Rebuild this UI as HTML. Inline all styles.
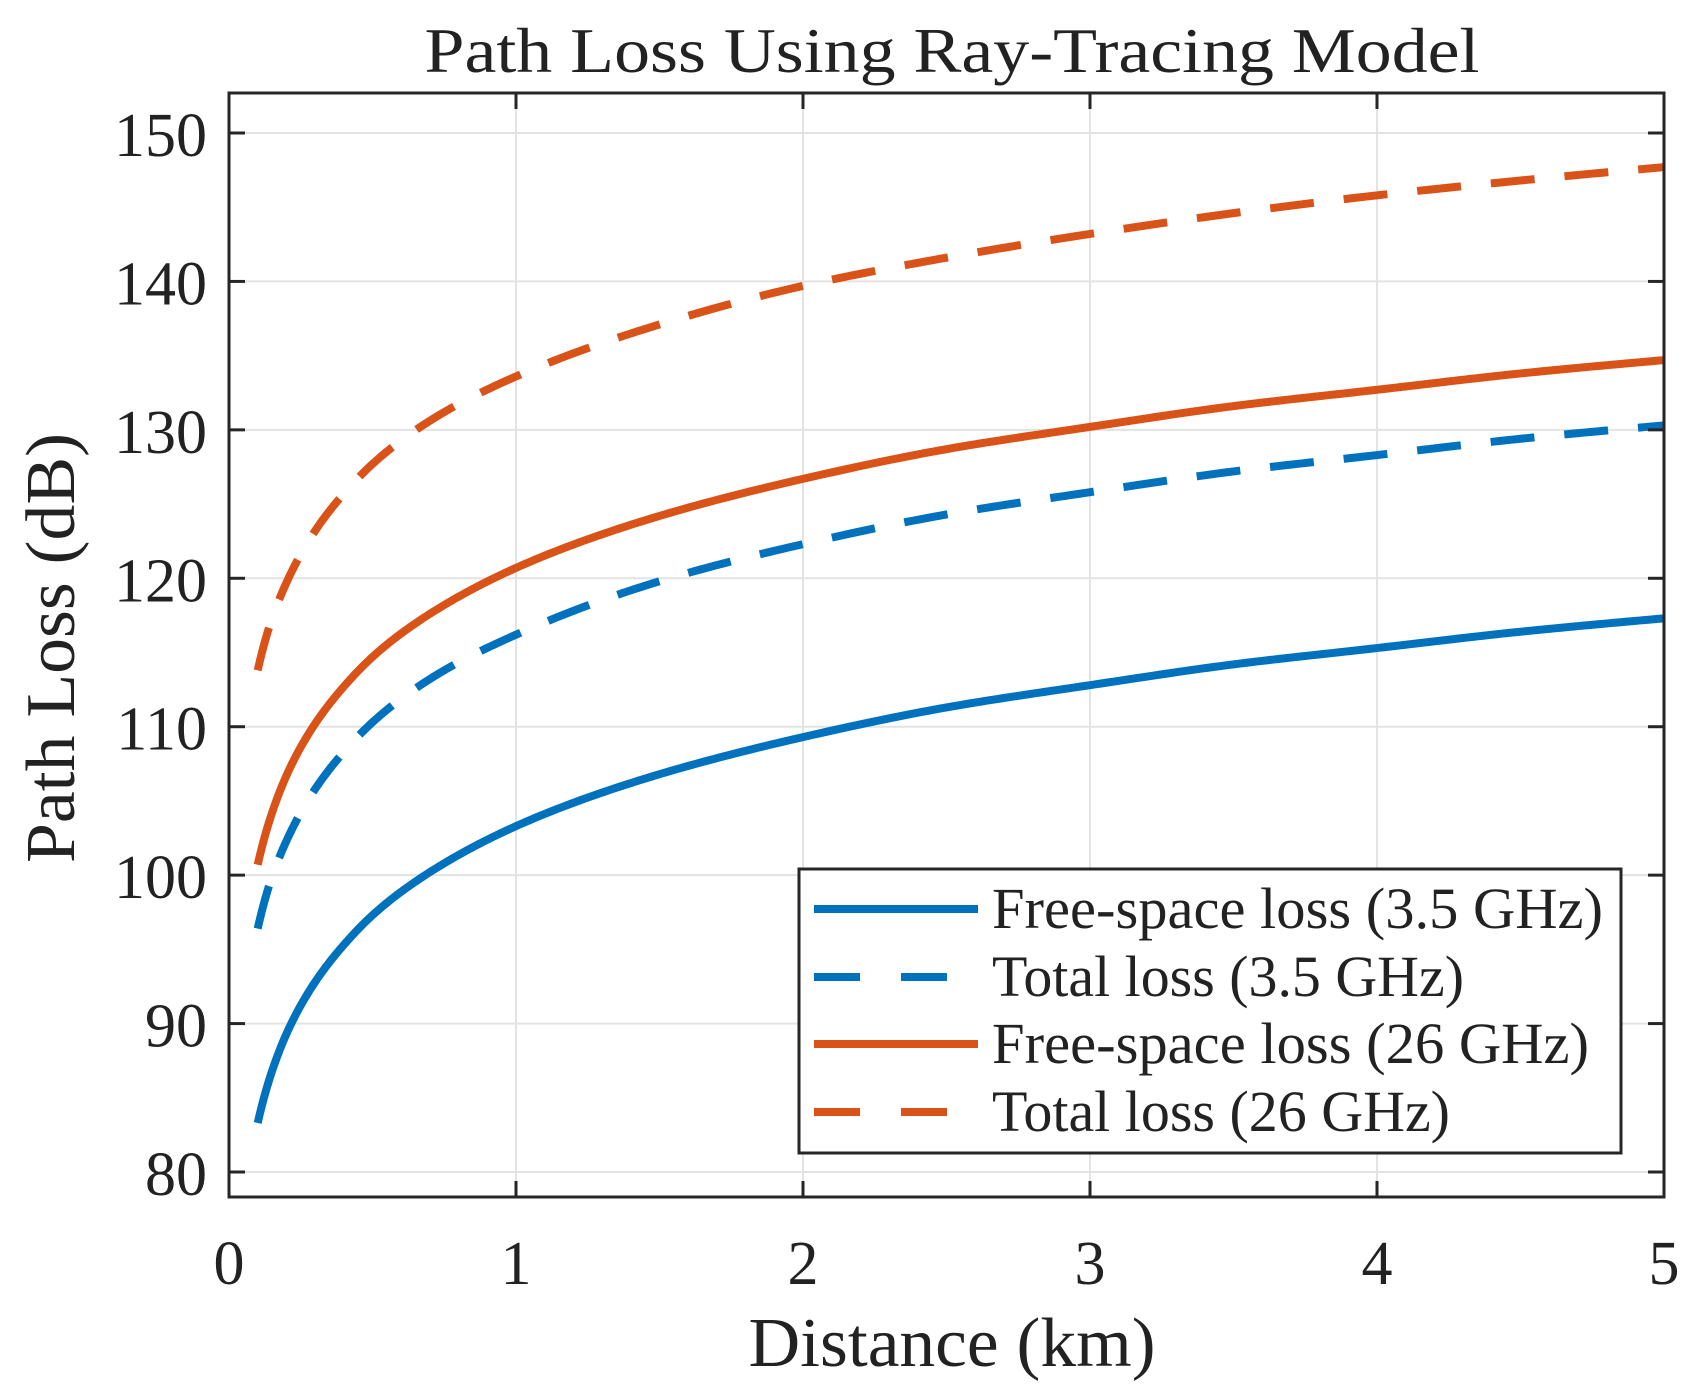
<!DOCTYPE html>
<html><head><meta charset="utf-8"><style>
html,body{margin:0;padding:0;background:#fff;}
svg{display:block;font-family:"Liberation Serif",serif;}
</style></head><body>
<svg id="chart" width="1697" height="1397" viewBox="0 0 1697 1397">
<rect x="0" y="0" width="1697" height="1397" fill="#fff"/>
<text x="952" y="72" text-anchor="middle" font-size="64" textLength="1055" lengthAdjust="spacingAndGlyphs" fill="#222">Path Loss Using Ray-Tracing Model</text>
<g id="grid"></g>
<g id="series"></g>
<rect x="229" y="93" width="1435" height="1104" fill="none" stroke="#262626" stroke-width="3"/>
<g id="ticks"></g>
<text x="952" y="1366" text-anchor="middle" font-size="70" textLength="407" lengthAdjust="spacingAndGlyphs" fill="#222">Distance (km)</text>
<text transform="translate(74,648) rotate(-90)" text-anchor="middle" font-size="70" textLength="430" lengthAdjust="spacingAndGlyphs" fill="#222">Path Loss (dB)</text>
<g>
<rect x="799" y="869" width="822" height="284" fill="#fff" stroke="#262626" stroke-width="3"/>
<line x1="814" y1="909" x2="978" y2="909" stroke="#0072BD" stroke-width="8"/>
<text x="992" y="928" font-size="58" textLength="611" lengthAdjust="spacingAndGlyphs" fill="#222">Free-space loss (3.5 GHz)</text>
<line x1="814" y1="977" x2="978" y2="977" stroke="#0072BD" stroke-width="8" stroke-dasharray="46 41"/>
<text x="992" y="996" font-size="58" textLength="472" lengthAdjust="spacingAndGlyphs" fill="#222">Total loss (3.5 GHz)</text>
<line x1="814" y1="1044" x2="978" y2="1044" stroke="#D95319" stroke-width="8"/>
<text x="992" y="1063" font-size="58" textLength="597" lengthAdjust="spacingAndGlyphs" fill="#222">Free-space loss (26 GHz)</text>
<line x1="814" y1="1112" x2="978" y2="1112" stroke="#D95319" stroke-width="8" stroke-dasharray="46 41"/>
<text x="992" y="1131" font-size="58" textLength="458" lengthAdjust="spacingAndGlyphs" fill="#222">Total loss (26 GHz)</text>
</g>
</svg>
<script>
const distances = [0.1,0.15,0.2,0.3,0.4,0.5,0.75,1,1.5,2,2.5,3,3.5,4,4.5,5];
const freeSpace35 = [83.3,86.8,89.3,92.8,95.3,97.3,100.8,103.3,106.8,109.3,111.3,112.8,114.2,115.3,116.4,117.3];
const total35 = [96.4,99.9,102.3,105.8,108.3,110.3,113.8,116.2,119.8,122.3,124.3,125.8,127.2,128.3,129.4,130.3];
const freeSpace26 = [100.7,104.2,106.7,110.2,112.7,114.7,118.2,120.7,124.2,126.7,128.7,130.2,131.6,132.7,133.8,134.7];
const total26 = [113.8,117.3,119.7,123.2,125.7,127.7,131.2,133.6,137.1,139.7,141.6,143.2,144.6,145.8,146.8,147.7];
const xTicks = [0,1,2,3,4,5];
const yTicks = [80,90,100,110,120,130,140,150];

const NS = "http://www.w3.org/2000/svg";
const X0 = 229, X1 = 1664, Y150 = 133, Y80 = 1172;
function xs(v){ return X0 + (v - 0) / 5 * (X1 - X0); }
function ys(v){ return Y80 - (v - 80) / 70 * (Y80 - Y150); }
function mk(tag, attrs, parent){
  const el = document.createElementNS(NS, tag);
  for (const k in attrs) el.setAttribute(k, attrs[k]);
  parent.appendChild(el);
  return el;
}
const grid = document.getElementById('grid');
const ticks = document.getElementById('ticks');
xTicks.forEach(t => {
  const g = mk('line', {x1: xs(t), x2: xs(t), y1: 93, y2: 1197, stroke: '#e3e3e3', 'stroke-width': 2}, grid);
  
  
  const a = mk('line', {x1: xs(t), x2: xs(t), y1: 1197, y2: 1181, stroke: '#262626', 'stroke-width': 3}, ticks);
  
  
  const b = mk('line', {x1: xs(t), x2: xs(t), y1: 93, y2: 109, stroke: '#262626', 'stroke-width': 3}, ticks);
  
  
  const l = mk('text', {x: xs(t), y: 1284, 'text-anchor': 'middle', 'font-size': 62, fill: '#222'}, ticks);
  l.textContent = t;
  
  
});
yTicks.forEach(t => {
  const g = mk('line', {x1: 229, x2: 1664, y1: ys(t), y2: ys(t), stroke: '#e3e3e3', 'stroke-width': 2}, grid);
  
  
  const a = mk('line', {x1: 229, x2: 245, y1: ys(t), y2: ys(t), stroke: '#262626', 'stroke-width': 3}, ticks);
  
  
  const b = mk('line', {x1: 1648, x2: 1664, y1: ys(t), y2: ys(t), stroke: '#262626', 'stroke-width': 3}, ticks);
  
  
  const l = mk('text', {x: 207, y: ys(t) + 23, 'text-anchor': 'end', 'font-size': 62, fill: '#222'}, ticks);
  l.textContent = t;
  
  
});
// Monotone cubic interpolation in log-distance space, sampled densely
function pathFor(vals){
  const n = distances.length;
  const t = distances.map(d => Math.log(d));
  const h = [], dl = [];
  for (let i = 0; i < n - 1; i++){ h.push(t[i+1]-t[i]); dl.push((vals[i+1]-vals[i])/h[i]); }
  const m = new Array(n);
  m[0] = dl[0]; m[n-1] = dl[n-2];
  for (let i = 1; i < n - 1; i++){
    if (dl[i-1]*dl[i] <= 0) m[i] = 0;
    else {
      const w1 = 2*h[i] + h[i-1], w2 = h[i] + 2*h[i-1];
      m[i] = (w1 + w2) / (w1/dl[i-1] + w2/dl[i]);
    }
  }
  let s = 'M' + xs(distances[0]).toFixed(2) + ',' + ys(vals[0]).toFixed(2);
  for (let i = 0; i < n - 1; i++){
    const N = 24;
    for (let k = 1; k <= N; k++){
      const u = k / N, hh = h[i];
      const h00 = 2*u*u*u - 3*u*u + 1, h10 = u*u*u - 2*u*u + u, h01 = -2*u*u*u + 3*u*u, h11 = u*u*u - u*u;
      const v = h00*vals[i] + h10*hh*m[i] + h01*vals[i+1] + h11*hh*m[i+1];
      const d = Math.exp(t[i] + u*hh);
      s += ' L' + xs(d).toFixed(2) + ',' + ys(v).toFixed(2);
    }
  }
  return s;
}
const series = document.getElementById('series');
const s1 = mk('path', {d: pathFor(freeSpace35), fill: 'none', stroke: '#0072BD', 'stroke-width': 8, 'stroke-linejoin': 'round'}, series);


const s2 = mk('path', {d: pathFor(total35), fill: 'none', stroke: '#0072BD', 'stroke-width': 8, 'stroke-dasharray': '44 30'}, series);


const s3 = mk('path', {d: pathFor(freeSpace26), fill: 'none', stroke: '#D95319', 'stroke-width': 8, 'stroke-linejoin': 'round'}, series);


const s4 = mk('path', {d: pathFor(total26), fill: 'none', stroke: '#D95319', 'stroke-width': 8, 'stroke-dasharray': '44 30'}, series);


</script>
</body></html>
